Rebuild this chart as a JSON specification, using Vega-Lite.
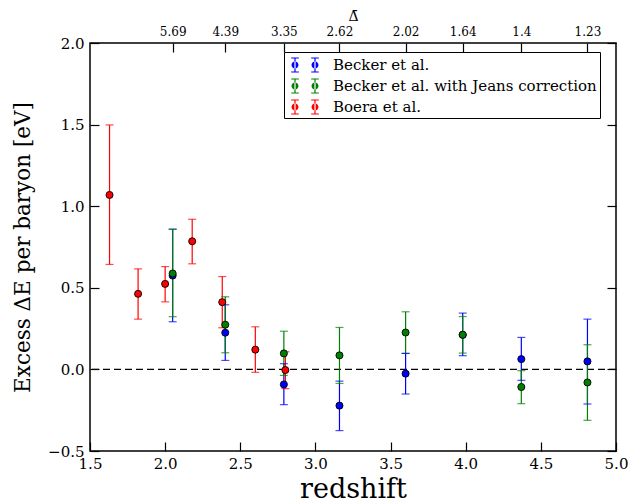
{
  "$schema": "https://vega.github.io/schema/vega-lite/v6.json",
  "width": 526,
  "height": 408,
  "autosize": {"type": "none"},
  "padding": {"left": 90, "top": 43, "right": 15, "bottom": 53},
  "background": "white",
  "config": {
    "view": {"stroke": "black", "strokeWidth": 1.5},
    "font": "DejaVu Serif",
    "legend": {"labelFont": "DejaVu Serif", "labelFontSize": 15, "labelLimit": 400, "labelColor": "black"},
    "axis": {"grid": false, "domain": false, "ticks": true, "labelFlush": false, "tickColor": "black", "tickOpacity": 1, "labelColor": "black", "titleColor": "black", "labelFont": "DejaVu Serif", "titleFont": "DejaVu Serif", "titleFontWeight": "normal", "tickWidth": 1.2, "tickSize": 9, "offset": -9, "zindex": 1}
  },
  "datasets": {
    "obs": [
      {"series": "Becker et al.", "z": 2.05, "v": 0.575, "lo": 0.292, "hi": 0.859},
      {"series": "Becker et al.", "z": 2.40, "v": 0.225, "lo": 0.055, "hi": 0.396},
      {"series": "Becker et al.", "z": 2.79, "v": -0.092, "lo": -0.216, "hi": 0.035},
      {"series": "Becker et al.", "z": 3.16, "v": -0.222, "lo": -0.375, "hi": -0.072},
      {"series": "Becker et al.", "z": 3.60, "v": -0.026, "lo": -0.151, "hi": 0.098},
      {"series": "Becker et al.", "z": 3.98, "v": 0.212, "lo": 0.084, "hi": 0.345},
      {"series": "Becker et al.", "z": 4.37, "v": 0.063, "lo": -0.067, "hi": 0.196},
      {"series": "Becker et al.", "z": 4.81, "v": 0.049, "lo": -0.212, "hi": 0.308},
      {"series": "Becker et al. with Jeans correction", "z": 2.05, "v": 0.588, "lo": 0.323, "hi": 0.859},
      {"series": "Becker et al. with Jeans correction", "z": 2.40, "v": 0.274, "lo": 0.102, "hi": 0.445},
      {"series": "Becker et al. with Jeans correction", "z": 2.79, "v": 0.098, "lo": -0.037, "hi": 0.234},
      {"series": "Becker et al. with Jeans correction", "z": 3.16, "v": 0.086, "lo": -0.086, "hi": 0.257},
      {"series": "Becker et al. with Jeans correction", "z": 3.60, "v": 0.226, "lo": 0.098, "hi": 0.353},
      {"series": "Becker et al. with Jeans correction", "z": 3.98, "v": 0.212, "lo": 0.100, "hi": 0.324},
      {"series": "Becker et al. with Jeans correction", "z": 4.37, "v": -0.108, "lo": -0.210, "hi": -0.008},
      {"series": "Becker et al. with Jeans correction", "z": 4.81, "v": -0.080, "lo": -0.312, "hi": 0.151},
      {"series": "Boera et al.", "z": 1.63, "v": 1.069, "lo": 0.643, "hi": 1.498},
      {"series": "Boera et al.", "z": 1.82, "v": 0.463, "lo": 0.308, "hi": 0.616},
      {"series": "Boera et al.", "z": 2.00, "v": 0.524, "lo": 0.414, "hi": 0.630},
      {"series": "Boera et al.", "z": 2.18, "v": 0.785, "lo": 0.647, "hi": 0.920},
      {"series": "Boera et al.", "z": 2.38, "v": 0.412, "lo": 0.255, "hi": 0.569},
      {"series": "Boera et al.", "z": 2.60, "v": 0.121, "lo": -0.018, "hi": 0.261},
      {"series": "Boera et al.", "z": 2.80, "v": -0.004, "lo": -0.118, "hi": 0.108}
    ]
  },
  "resolve": {"axis": {"x": "independent", "y": "independent"}},
  "layer": [
    {
      "data": {"values": [{"y0": 0}]},
      "mark": {"type": "rule", "color": "black", "strokeWidth": 1.2, "strokeDash": [7, 4]},
      "encoding": {
        "y": {"field": "y0", "type": "quantitative", "scale": {"domain": [-0.5, 2.0], "nice": false, "zero": false, "padding": 0}, "axis": null}
      }
    },
    {
      "data": {"name": "obs"},
      "mark": {"type": "rule", "strokeWidth": 1.2},
      "encoding": {
        "x": {"field": "z", "type": "quantitative", "scale": {"domain": [1.5, 5.0], "nice": false, "zero": false, "padding": 0},
          "axis": {"orient": "top", "values": [2.05, 2.40, 2.79, 3.16, 3.60, 3.98, 4.37, 4.81], "ticks": true, "tickSize": 9, "tickWidth": 1.2, "tickOpacity": 1, "tickColor": "black", "labelFlush": false,
            "labelExpr": "datum.value < 2.2 ? '5.69' : datum.value < 2.6 ? '4.39' : datum.value < 3.0 ? '3.35' : datum.value < 3.4 ? '2.62' : datum.value < 3.8 ? '2.02' : datum.value < 4.2 ? '1.64' : datum.value < 4.6 ? '1.4' : '1.23'",
            "title": "Δ̄", "titleFontSize": 14, "titlePadding": 2, "labelFontSize": 12, "labelPadding": 5}},
        "y": {"field": "lo", "type": "quantitative", "scale": {"domain": [-0.5, 2.0], "nice": false, "zero": false, "padding": 0},
          "axis": {"orient": "right", "values": [-0.5, 0, 0.5, 1.0, 1.5, 2.0], "ticks": true, "tickSize": 9, "tickWidth": 1.2, "tickOpacity": 1, "tickColor": "black", "labels": false, "title": null}},
        "y2": {"field": "hi"},
        "stroke": {"field": "series", "type": "nominal", "legend": null,
          "scale": {"domain": ["Boera et al.", "Becker et al.", "Becker et al. with Jeans correction"], "range": ["#ff0000", "#0000ff", "#008000"]}}
      }
    },
    {
      "data": {"name": "obs"},
      "mark": {"type": "tick", "orient": "horizontal", "size": 8, "thickness": 1.2},
      "encoding": {
        "x": {"field": "z", "type": "quantitative", "axis": null},
        "y": {"field": "lo", "type": "quantitative", "axis": null},
        "fill": {"field": "series", "type": "nominal", "legend": null,
          "scale": {"domain": ["Becker et al. with Jeans correction", "Boera et al.", "Becker et al."], "range": ["#008000", "#ff0000", "#0000ff"]}}
      }
    },
    {
      "data": {"name": "obs"},
      "mark": {"type": "tick", "orient": "horizontal", "size": 8, "thickness": 1.2},
      "encoding": {
        "x": {"field": "z", "type": "quantitative", "axis": null},
        "y": {"field": "hi", "type": "quantitative", "axis": null},
        "fill": {"field": "series", "type": "nominal", "legend": null}
      }
    },
    {
      "data": {"name": "obs"},
      "mark": {"type": "point", "shape": "circle", "filled": true, "size": 50, "stroke": "black", "strokeWidth": 0.9, "opacity": 1},
      "encoding": {
        "x": {"field": "z", "type": "quantitative",
          "axis": {"orient": "bottom", "values": [1.5, 2.0, 2.5, 3.0, 3.5, 4.0, 4.5, 5.0], "format": ".1f", "ticks": true, "tickSize": 9, "tickWidth": 1.2, "tickOpacity": 1, "tickColor": "black", "labelFlush": false, "labelFontSize": 15, "labelPadding": 5,
            "title": "redshift", "titleFontSize": 27, "titlePadding": 5}},
        "y": {"field": "v", "type": "quantitative",
          "axis": {"orient": "left", "values": [-0.5, 0, 0.5, 1.0, 1.5, 2.0], "format": ".1f", "ticks": true, "tickSize": 9, "tickWidth": 1.2, "tickOpacity": 1, "tickColor": "black", "labelFlush": false, "labelFontSize": 15, "labelPadding": 6,
            "title": "Excess ΔE per baryon [eV]", "titleFontSize": 21.5, "titlePadding": 13}},
        "color": {"field": "series", "type": "nominal",
          "scale": {"domain": ["Becker et al.", "Becker et al. with Jeans correction", "Boera et al."], "range": ["#0000ff", "#008000", "#ff0000"]},
          "legend": {"title": null, "orient": "none", "legendX": 194, "legendY": 9, "direction": "vertical",
            "fillColor": "white", "strokeColor": "black", "padding": 3, "cornerRadius": 0,
            "labelFont": "DejaVu Serif", "labelFontSize": 15, "labelLimit": 400, "labelColor": "black", "labelOffset": 26,
            "symbolSize": 400, "symbolStrokeWidth": 0, "symbolOpacity": 1, "rowPadding": 3,
            "symbolType": "M -0.55 0 A 0.35 0.35 0 1 0 0.15 0 A 0.35 0.35 0 1 0 -0.55 0 Z M -0.26 -0.7 L -0.14 -0.7 L -0.14 0.7 L -0.26 0.7 Z M -0.58 -0.75 L 0.18 -0.75 L 0.18 -0.65 L -0.58 -0.65 Z M -0.58 0.65 L 0.18 0.65 L 0.18 0.75 L -0.58 0.75 Z M 1.45 0 A 0.35 0.35 0 1 0 2.15 0 A 0.35 0.35 0 1 0 1.45 0 Z M 1.74 -0.7 L 1.86 -0.7 L 1.86 0.7 L 1.74 0.7 Z M 1.42 -0.75 L 2.18 -0.75 L 2.18 -0.65 L 1.42 -0.65 Z M 1.42 0.65 L 2.18 0.65 L 2.18 0.75 L 1.42 0.75 Z"}
        }
      }
    }
  ]
}
